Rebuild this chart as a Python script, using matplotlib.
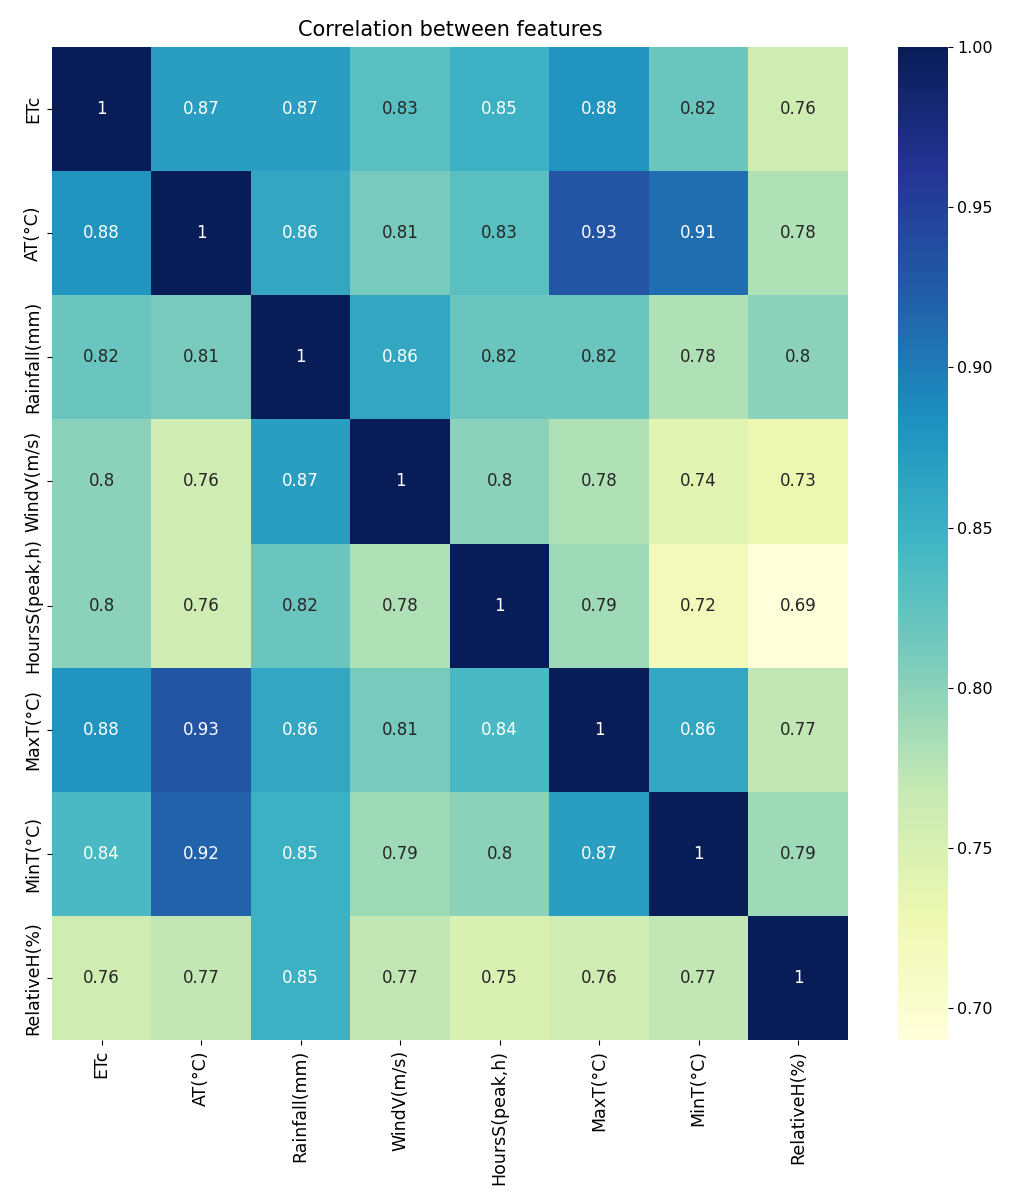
import numpy as np
import pandas as pd
import matplotlib
matplotlib.use("Agg")
import matplotlib.pyplot as plt
import seaborn as sns

# 特征名称
features = ["ETc", "AT(°C)", "Rainfall(mm)", "WindV(m/s)",
            "HoursS(peak,h)", "MaxT(°C)", "MinT(°C)", "RelativeH(%)"]

# 相关系数（按行读取）
row_etc = [1, 0.87, 0.87, 0.83, 0.85, 0.88, 0.82, 0.76]
row_at = [0.88, 1, 0.86, 0.81, 0.83, 0.93, 0.91, 0.78]
row_rain = [0.82, 0.81, 1, 0.86, 0.82, 0.82, 0.78, 0.8]
row_wind = [0.8, 0.76, 0.87, 1, 0.8, 0.78, 0.74, 0.73]
row_hours = [0.8, 0.76, 0.82, 0.78, 1, 0.79, 0.72, 0.69]
row_maxt = [0.88, 0.93, 0.86, 0.81, 0.84, 1, 0.86, 0.77]
row_mint = [0.84, 0.92, 0.85, 0.79, 0.8, 0.87, 1, 0.79]
row_rh = [0.76, 0.77, 0.85, 0.77, 0.75, 0.76, 0.77, 1]

corr = pd.DataFrame([row_etc, row_at, row_rain, row_wind,
                     row_hours, row_maxt, row_mint, row_rh],
                    index=features, columns=features)

fig = plt.figure(figsize=(10.18, 12), dpi=100)
ax = fig.add_axes([0.051, 0.133, 0.782, 0.828])
cax = fig.add_axes([0.882, 0.133, 0.049, 0.828])

sns.heatmap(corr, annot=True, cmap="YlGnBu", ax=ax, cbar_ax=cax,
            annot_kws={"fontsize": 12})
ax.set_title("Correlation between features", fontsize=15, pad=8)
ax.tick_params(labelsize=12.5)
plt.setp(ax.get_xticklabels(), rotation=90)
plt.setp(ax.get_yticklabels(), rotation=90, va="center")
cax.tick_params(labelsize=11.5)

fig.savefig("out.png", dpi=100)
